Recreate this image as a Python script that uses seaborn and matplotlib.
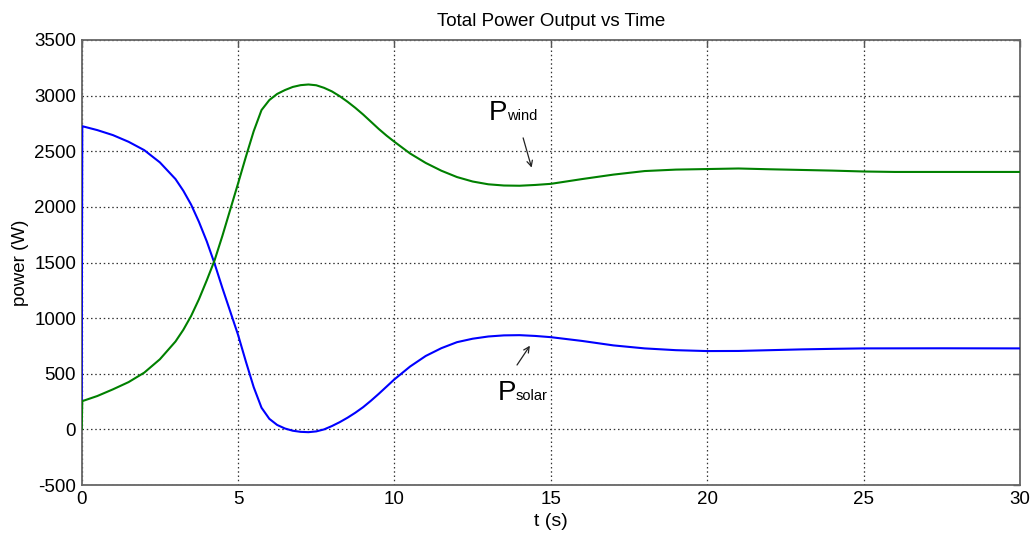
import matplotlib
matplotlib.use("Agg")
import matplotlib.pyplot as plt
import seaborn as sns
import pandas as pd

# Solar power output (W) over time (s)
t_solar = [0, 0.02, 0.5, 1.0, 1.5, 2.0, 2.5, 3.0, 3.25, 3.5, 3.75, 4.0, 4.25, 4.5,
           4.75, 5.0, 5.25, 5.5, 5.75, 6.0, 6.25, 6.5, 6.75, 7.0, 7.25, 7.5, 7.75,
           8.0, 8.25, 8.5, 8.75, 9.0, 9.25, 9.5, 9.75, 10.0, 10.5, 11.0, 11.5, 12.0,
           12.5, 13.0, 13.5, 14.0, 14.5, 15.0, 16.0, 17.0, 18.0, 19.0, 20.0, 21.0,
           22.0, 23.0, 24.0, 25.0, 27.5, 30.0]
p_solar = [250, 2725, 2690, 2645, 2585, 2510, 2400, 2250, 2145, 2020, 1865, 1690,
           1490, 1270, 1060, 850, 610, 380, 195, 95, 40, 8, -12, -22, -25, -18, 0,
           30, 65, 105, 150, 200, 258, 320, 385, 450, 565, 660, 730, 784, 815, 835,
           845, 847, 840, 829, 795, 755, 728, 712, 704, 705, 712, 719, 724, 728,
           729, 728]

# Wind power output (W) over time (s)
t_wind = [0, 0.02, 0.5, 1.0, 1.5, 2.0, 2.5, 3.0, 3.25, 3.5, 3.75, 4.0, 4.25, 4.5,
          4.75, 5.0, 5.25, 5.5, 5.75, 6.0, 6.25, 6.5, 6.75, 7.0, 7.25, 7.5, 7.75,
          8.0, 8.25, 8.5, 8.75, 9.0, 9.25, 9.5, 9.75, 10.0, 10.5, 11.0, 11.5, 12.0,
          12.5, 13.0, 13.5, 14.0, 14.5, 15.0, 16.0, 17.0, 18.0, 19.0, 20.0, 21.0,
          22.0, 23.0, 24.0, 25.0, 26.0, 30.0]
p_wind = [0, 254, 300, 360, 425, 510, 630, 790, 895, 1020, 1170, 1340, 1520, 1740,
          1975, 2210, 2450, 2680, 2870, 2960, 3015, 3050, 3078, 3094, 3100, 3093,
          3070, 3038, 2995, 2945, 2890, 2830, 2765, 2700, 2640, 2585, 2480, 2395,
          2325, 2268, 2228, 2203, 2192, 2190, 2197, 2207, 2250, 2290, 2322, 2335,
          2340, 2345, 2338, 2332, 2326, 2318, 2314, 2314]

x_ticks = [0, 5, 10, 15, 20, 25, 30]
y_ticks = [-500, 0, 500, 1000, 1500, 2000, 2500, 3000, 3500]

sns.set_style("white")
plt.rcParams["font.family"] = ["Liberation Sans", "DejaVu Sans"]
plt.rcParams["text.color"] = "black"
plt.rcParams["axes.labelcolor"] = "black"
plt.rcParams["xtick.labelcolor"] = "black"
plt.rcParams["ytick.labelcolor"] = "black"

fig = plt.figure(figsize=(10.35, 5.36), dpi=100)
ax = fig.add_axes([0.0789, 0.0951, 0.9066, 0.8303])

df_solar = pd.DataFrame({"t": t_solar, "p": p_solar})
df_wind = pd.DataFrame({"t": t_wind, "p": p_wind})
sns.lineplot(data=df_solar, x="t", y="p", ax=ax, color="#0000ff", lw=1.5,
             sort=False, estimator=None, zorder=3)
sns.lineplot(data=df_wind, x="t", y="p", ax=ax, color="#008000", lw=1.5,
             sort=False, estimator=None, zorder=3)

ax.set_xlim(0, 30)
ax.set_ylim(-500, 3500)
ax.set_xticks(x_ticks)
ax.set_yticks(y_ticks)
ax.set_xticklabels([str(v) for v in x_ticks], fontsize=13.5)
ax.set_yticklabels([str(v) for v in y_ticks], fontsize=13.5)

ax.grid(True, color="#333333", linestyle=(0, (1.2, 2.2)), linewidth=0.9)
ax.tick_params(direction="in", length=5, width=1, color="#555555",
               top=True, right=True, pad=4)
for s in ax.spines.values():
    s.set_color("#666666")
    s.set_linewidth(1.3)
    s.set_visible(True)

ax.set_title("Total Power Output vs Time", fontsize=13.5, pad=10)
ax.set_xlabel("t (s)", fontsize=14, labelpad=4)
ax.set_ylabel("power (W)", fontsize=13.5, labelpad=4)

# Curve labels with arrows
ax.text(13.0, 2779, "P", fontsize=20, va="baseline", ha="left")
ax.text(13.61, 2779, "wind", fontsize=10.5, va="baseline", ha="left")
ax.annotate("", xy=(14.41, 2329), xytext=(14.09, 2644),
            arrowprops=dict(arrowstyle="->", lw=0.9, color="#222222"))

ax.text(13.3, 261, "P", fontsize=20, va="baseline", ha="left")
ax.text(13.87, 261, "solar", fontsize=10.5, va="baseline", ha="left")
ax.annotate("", xy=(14.38, 773), xytext=(13.87, 558),
            arrowprops=dict(arrowstyle="->", lw=0.9, color="#222222"))

fig.savefig("out.png", dpi=100)
